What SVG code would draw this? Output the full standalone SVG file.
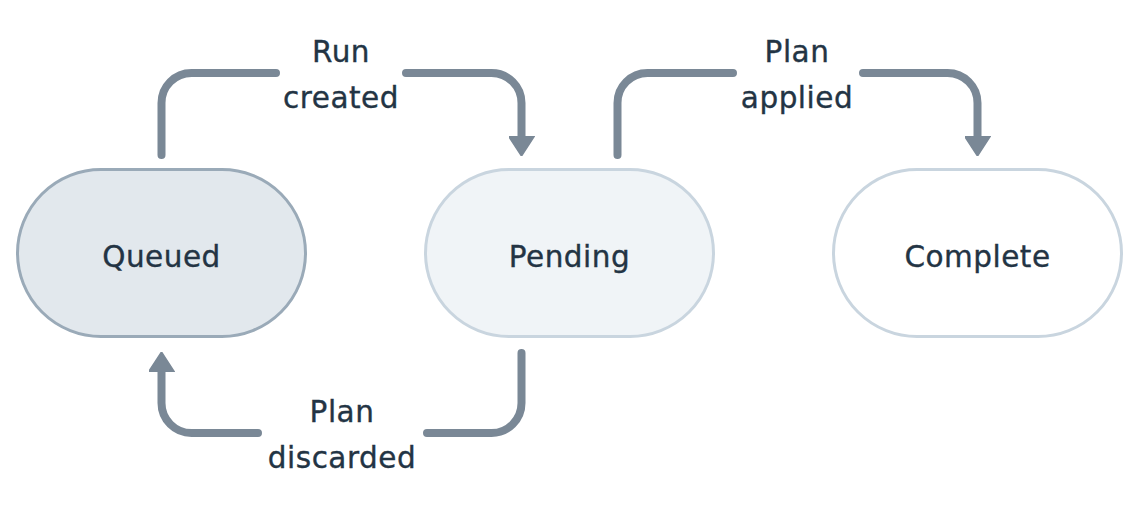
<svg xmlns="http://www.w3.org/2000/svg" width="1140" height="508" viewBox="0 0 1140 508">
  <defs>
    <style>
      .node { stroke-width: 3; }
      .lbl { font-family: "DejaVu Sans", "Liberation Sans", sans-serif; font-size: 29.5px; fill: #233444; stroke: #233444; stroke-width: 0.35px; text-anchor: middle; letter-spacing: 0.5px; }
      .conn { fill: none; stroke: #7a8896; stroke-width: 8; stroke-linecap: round; stroke-linejoin: round; }
    </style>
    <marker id="arrow" viewBox="0 0 20 26" refX="0" refY="13" markerWidth="20" markerHeight="26" markerUnits="userSpaceOnUse" orient="auto">
      <path d="M0,0 L20,13 L0,26 Z" fill="#7a8896" stroke="#7a8896" stroke-width="1.5" stroke-linejoin="round"/>
    </marker>
  </defs>
  <rect width="1140" height="508" fill="#ffffff"/>

  <g id="node-queued">
    <rect class="node" x="17.5" y="169.5" width="288" height="167" rx="83.5" ry="83.5" fill="#e2e8ed" stroke="#9aaab8"/>
    <text class="lbl" x="161.5" y="267">Queued</text>
  </g>
  <g id="node-pending">
    <rect class="node" x="425.5" y="169.5" width="288" height="167" rx="83.5" ry="83.5" fill="#f0f4f7" stroke="#c9d5df"/>
    <text class="lbl" x="569.5" y="267">Pending</text>
  </g>
  <g id="node-complete">
    <rect class="node" x="833.5" y="169.5" width="288" height="167" rx="83.5" ry="83.5" fill="#ffffff" stroke="#c9d5df"/>
    <text class="lbl" x="977.5" y="267">Complete</text>
  </g>

  <g id="connectors">
    <g id="edge-run-created">
      <path class="conn" d="M161.5,155 V103 A30,30 0 0 1 191.5,73 H276"/>
      <path class="conn" d="M406,73 H491.5 A30,30 0 0 1 521.5,103 V136" marker-end="url(#arrow)"/>
      <text class="lbl" x="341" y="62">Run</text>
      <text class="lbl" x="341" y="108">created</text>
    </g>
    <g id="edge-plan-applied">
      <path class="conn" d="M617.5,155 V103 A30,30 0 0 1 647.5,73 H733"/>
      <path class="conn" d="M863,73 H947.5 A30,30 0 0 1 977.5,103 V136" marker-end="url(#arrow)"/>
      <text class="lbl" x="797" y="62">Plan</text>
      <text class="lbl" x="797" y="108">applied</text>
    </g>
    <g id="edge-plan-discarded">
      <path class="conn" d="M521.5,353 V403 A30,30 0 0 1 491.5,433 H427"/>
      <path class="conn" d="M258,433 H191.5 A30,30 0 0 1 161.5,403 V372" marker-end="url(#arrow)"/>
      <text class="lbl" x="342" y="422">Plan</text>
      <text class="lbl" x="342" y="468">discarded</text>
    </g>
  </g>
</svg>
